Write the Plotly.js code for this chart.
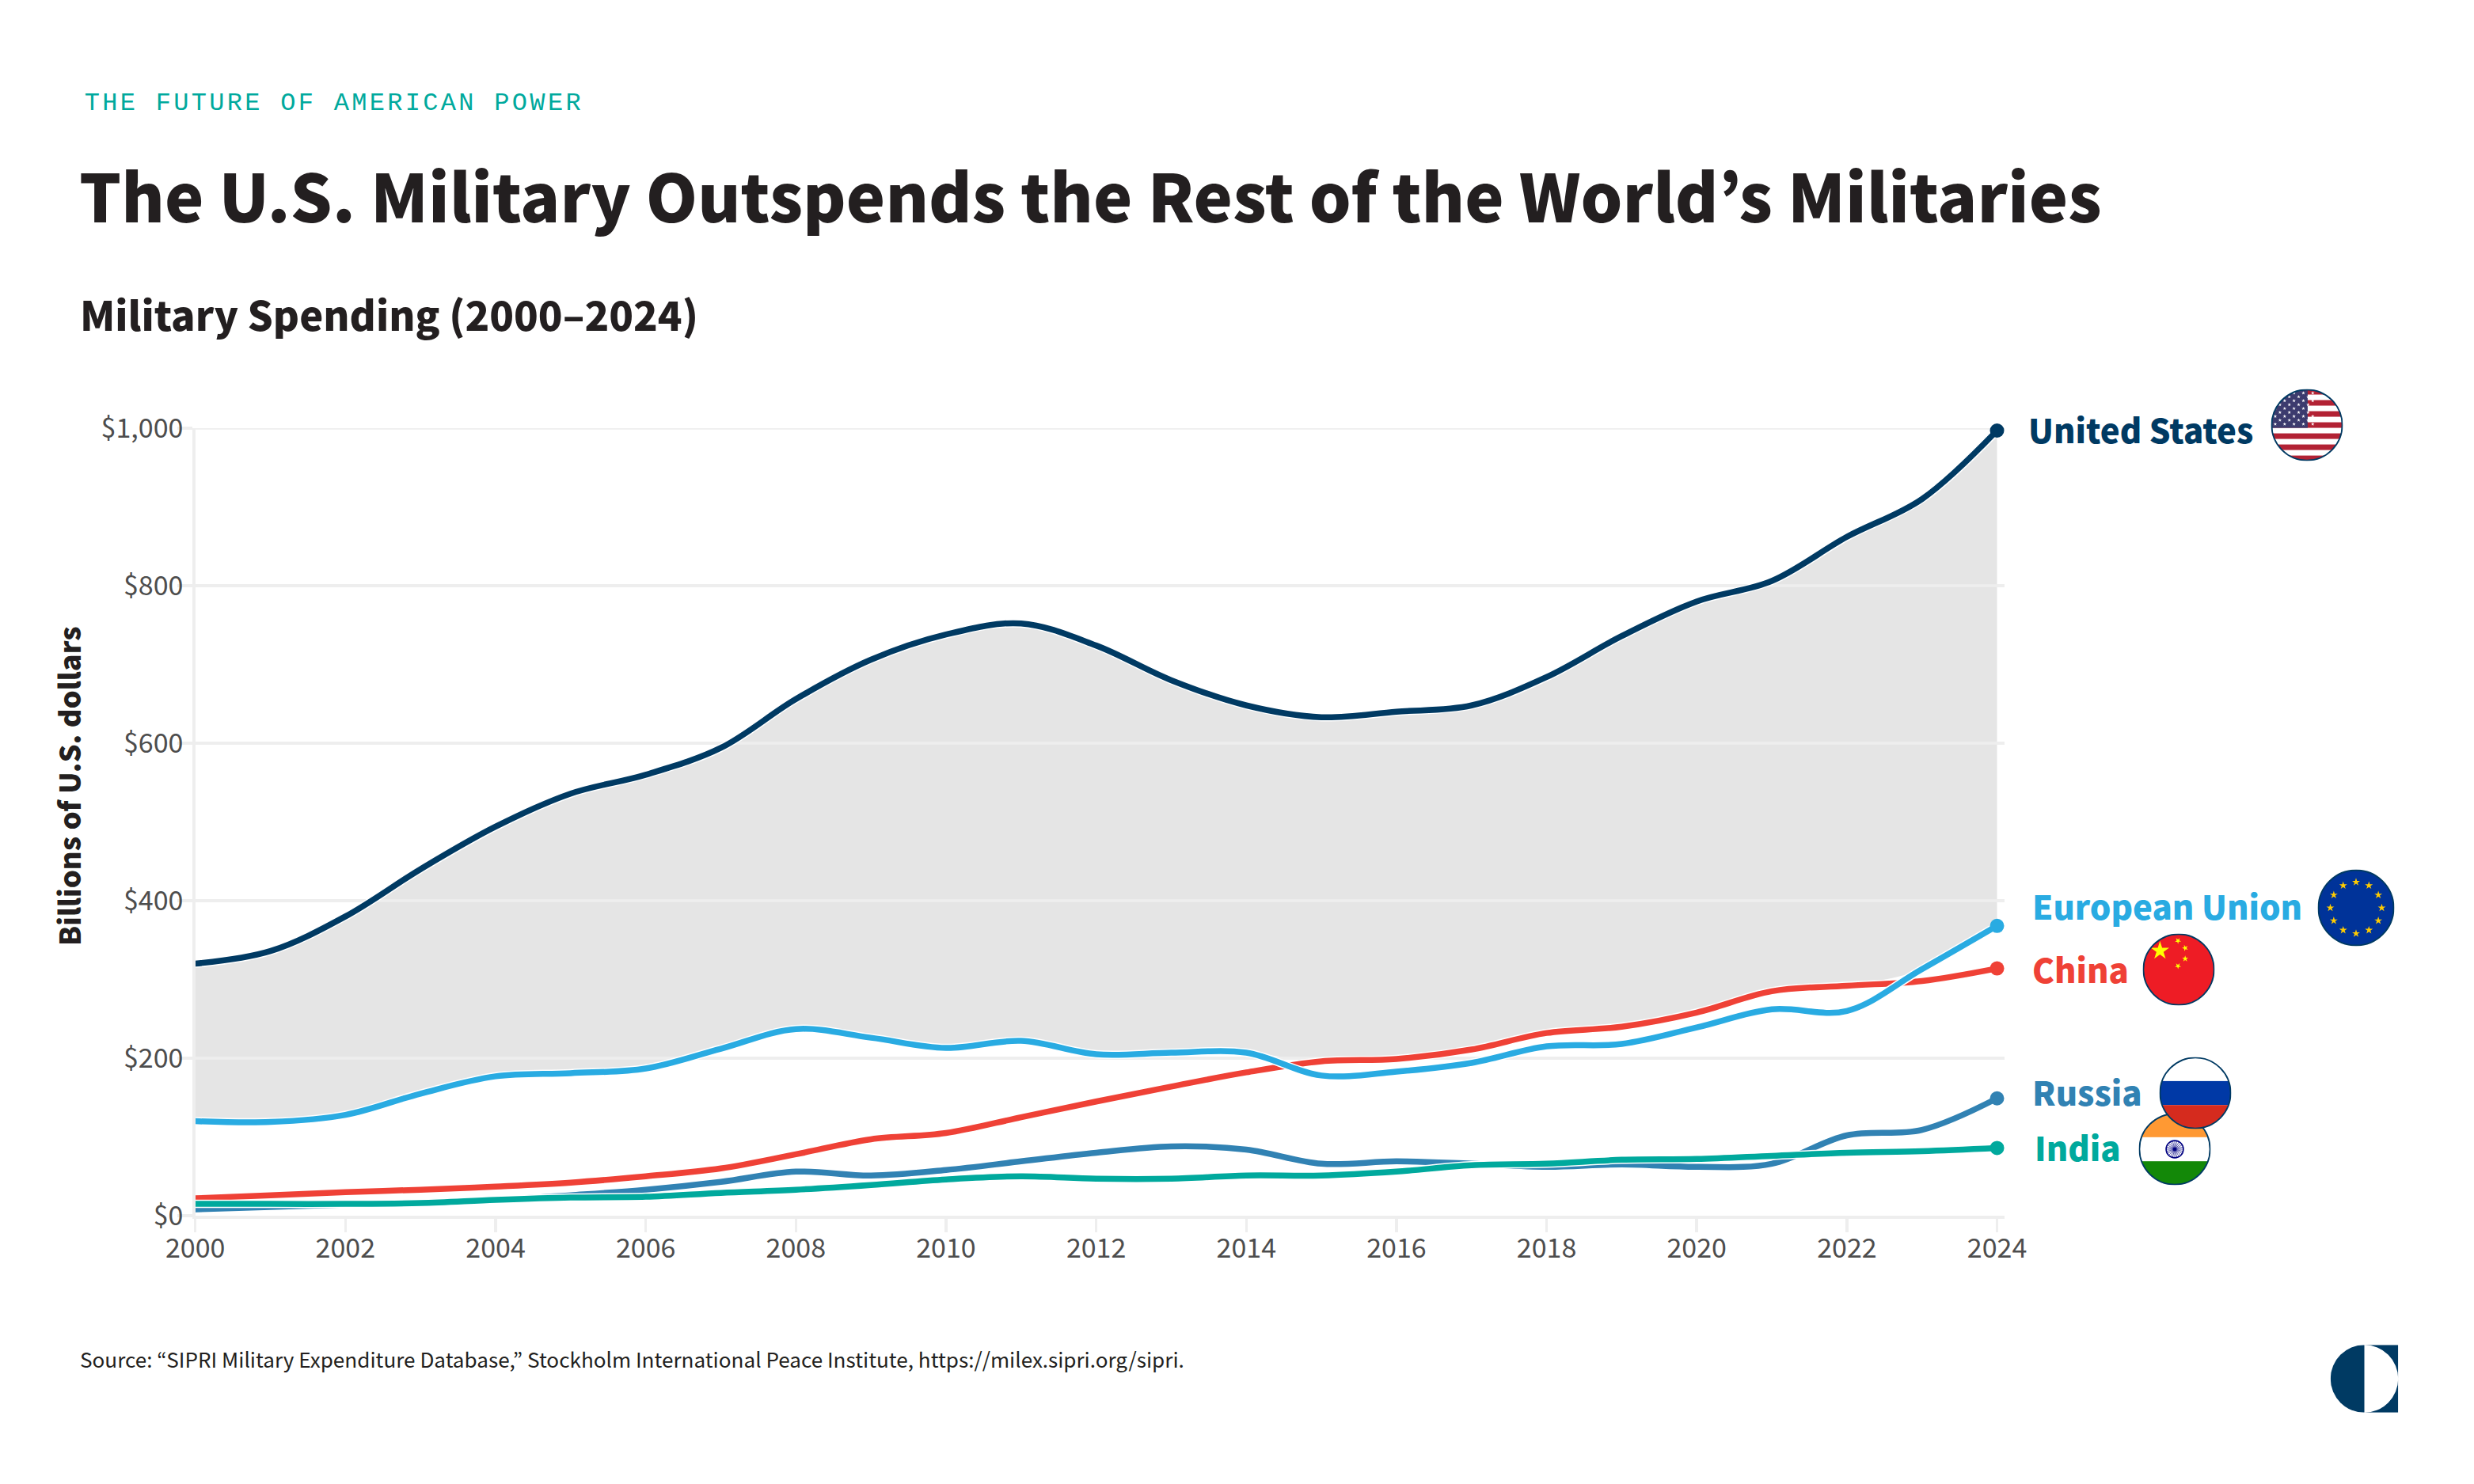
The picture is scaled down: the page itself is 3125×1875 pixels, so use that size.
<!DOCTYPE html>
<html><head><meta charset="utf-8">
<script src="https://cdn.plot.ly/plotly-3.0.1.min.js"></script>
<style>html,body{margin:0;padding:0;background:#fff}</style>
</head><body><div id="chart" style="width:3125px;height:1875px"></div>
<script>
const years = [2000,2001,2002,2003,2004,2005,2006,2007,2008,2009,2010,2011,2012,2013,2014,2015,2016,2017,2018,2019,2020,2021,2022,2023,2024];
const unitedStates = [320,336,380,440,494,536,560,594,656,706,738,752,724,680,648,633,640,648,684,736,780,806,862,910,997];
const europeanUnion = [120,119,128,155,177,181,187,212,237,226,213,222,205,207,207,178,183,194,215,218,239,262,260,313,368];
const china = [22,26,30,33,37,42,50,60,78,97,105,125,145,164,182,196,199,211,232,240,258,285,292,298,314];
const russia = [8,11,14,17,20,26,33,43,56,51,58,69,80,88,84,66,69,66,62,65,62,66,102,109,149];
const india = [15,15,15,16,20,23,24,29,33,39,46,50,47,47,51,51,56,64,66,71,72,76,80,82,86];
const yTicks = [0,200,400,600,800,1000];
const yTickLabels = ['$0','$200','$400','$600','$800','$1,000'];
const xTicks = [2000,2002,2004,2006,2008,2010,2012,2014,2016,2018,2020,2022,2024];

const W=3125,H=1875, px=x=>x/W, py=y=>1-y/H;
const FONT='"Noto Sans CJK KR","Noto Sans",sans-serif';
const NAVY='#003a63', INK='#231f20', GRID='#eeeeee';
const COL={us:NAVY,eu:'#29abe2',cn:'#ef4136',ru:'#3182b3',in:'#00a99d'};

/* upper edge of everything below the US line: the shaded gap runs from here to the US line */
const ceilingBelowUS = years.map((_,i)=>Math.max(europeanUnion[i],china[i],russia[i],india[i]));

const traces=[];
traces.push({x:years,y:ceilingBelowUS,mode:'lines',line:{width:0,shape:'spline',color:'rgba(0,0,0,0)'},hoverinfo:'skip',showlegend:false,name:'Gap floor'});
traces.push({x:years,y:unitedStates,mode:'lines',line:{width:0,shape:'spline',color:'rgba(0,0,0,0)'},fill:'tonexty',fillcolor:'#e5e5e5',hoverinfo:'skip',showlegend:false,name:'Gap'});
/* gridlines repeated above the shaded gap */
yTicks.slice(1).forEach(v=>traces.push({x:[2000,2024.1],y:[v,v],mode:'lines',line:{width:3.5,color:GRID},hoverinfo:'skip',showlegend:false,cliponaxis:false}));
function addSeries(name,vals,color){
  traces.push({x:years,y:vals,mode:'lines',line:{width:10.5,shape:'spline',color:'#ffffff'},hoverinfo:'skip',showlegend:false,cliponaxis:false});
  traces.push({x:years,y:vals,mode:'lines',name:name,line:{width:7.5,shape:'spline',color:color},showlegend:false,cliponaxis:false});
}
addSeries('United States',unitedStates,COL.us);
addSeries('China',china,COL.cn);
addSeries('Russia',russia,COL.ru);
addSeries('European Union',europeanUnion,COL.eu);
addSeries('India',india,COL.in);
[[unitedStates,COL.us],[europeanUnion,COL.eu],[china,COL.cn],[russia,COL.ru],[india,COL.in]].forEach(([v,c])=>{
  traces.push({x:[years[years.length-1]],y:[v[v.length-1]],mode:'markers',marker:{size:18,color:c},hoverinfo:'skip',showlegend:false,cliponaxis:false});
});

/* flag artwork */
function star(cx,cy,r,rot){rot=rot||0;let p=[];for(let i=0;i<10;i++){const a=-Math.PI/2+rot+i*Math.PI/5,q=i%2?r*0.382:r;p.push((cx+q*Math.cos(a)).toFixed(2)+','+(cy+q*Math.sin(a)).toFixed(2));}return '<polygon points="'+p.join(' ')+'"/>';}
function flag(inner){
  const s='<svg xmlns="http://www.w3.org/2000/svg" viewBox="0 0 100 100" width="400" height="400"><defs><clipPath id="c"><circle cx="50" cy="50" r="49"/></clipPath></defs><g clip-path="url(#c)">'+inner+'</g><circle cx="50" cy="50" r="49" fill="none" stroke="#003a63" stroke-width="2"/></svg>';
  return 'data:image/svg+xml;base64,'+btoa(s);
}
function usFlag(){let s='<rect width="100" height="100" fill="#fff"/>';for(let i=0;i<13;i+=2)s+='<rect y="'+(i*7.7)+'" width="100" height="7.7" fill="#b22234"/>';
  s+='<rect width="51" height="54" fill="#3c3b6e"/><g fill="#fff">';
  for(let r=0;r<9;r++){const off=r%2?6.5:0;for(let c=0;c<(r%2?4:5);c++)s+=star(6+off+c*13,5.5+r*5.4,2.6);}
  return flag(s+'</g>');}
function euFlag(){let s='<rect width="100" height="100" fill="#003399"/><g fill="#ffcc00">';for(let i=0;i<12;i++){const a=i*Math.PI/6;s+=star(50+33.5*Math.sin(a),50-33.5*Math.cos(a),5.4);}return flag(s+'</g>');}
function cnFlag(){let s='<rect width="100" height="100" fill="#ee1c25"/><g fill="#ffff00">'+star(24,24,13.5)+star(49,10,4.5,.6)+star(59,20,4.5,.9)+star(59,35,4.5,0)+star(49,45,4.5,.6);return flag(s+'</g>');}
function ruFlag(){return flag('<rect width="100" height="33.4" fill="#fff"/><rect y="33.4" width="100" height="33.3" fill="#0039a6"/><rect y="66.7" width="100" height="33.3" fill="#d52b1e"/>');}
function inFlag(){let s='<rect width="100" height="33.4" fill="#ff9933"/><rect y="33.4" width="100" height="33.3" fill="#fff"/><rect y="66.7" width="100" height="33.3" fill="#138808"/><circle cx="50" cy="50" r="12" fill="none" stroke="#000080" stroke-width="1.8"/><circle cx="50" cy="50" r="2.6" fill="#000080"/>';
  for(let i=0;i<24;i++){const a=i*Math.PI/12;s+='<line x1="50" y1="50" x2="'+(50+12*Math.cos(a)).toFixed(2)+'" y2="'+(50+12*Math.sin(a)).toFixed(2)+'" stroke="#000080" stroke-width=".7"/>';}
  return flag(s);}
const logo='data:image/svg+xml;base64,'+btoa('<svg xmlns="http://www.w3.org/2000/svg" viewBox="0 0 100 100" width="400" height="400"><path d="M50 0A50 50 0 0 0 50 100Z" fill="#003a63"/><path d="M50 0H100V100H50A50 50 0 0 0 50 0Z" fill="#003a63"/></svg>');
function img(src,cx,cy,d){return {source:src,xref:'paper',yref:'paper',x:px(cx-d/2),y:py(cy-d/2),sizex:d/W,sizey:d/H,xanchor:'left',yanchor:'top',sizing:'stretch',layer:'above'};}
const images=[img(usFlag(),2914,537,91),img(euFlag(),2976,1147,97),img(cnFlag(),2752,1225,91),img(inFlag(),2747,1452,91),img(ruFlag(),2773,1381,91),img(logo,2986.5,1742,85.5)];

function note(text,x,y,size,color,opts){return Object.assign({text:text,xref:'paper',yref:'paper',x:px(x),y:py(y),xanchor:'left',yanchor:'middle',showarrow:false,borderpad:0,font:{family:FONT,size:size,color:color,weight:900}},opts||{});}
const annotations=[
  note('THE FUTURE OF AMERICAN POWER',152,130,32,'#00a99d',{font:{family:'"Liberation Mono",monospace',size:32,color:'#00a99d',weight:400}}),
  note('Military Spending (2000–2024)',100,396,50.6,INK),
  note('Billions of U.S. dollars',86,993,36.3,INK,{textangle:-90,xanchor:'center'}),
  note('United States',2561,541,41.9,COL.us),
  note('European Union',2566,1143,41.9,COL.eu),
  note('China',2566,1223,41.9,COL.cn),
  note('Russia',2566,1378,41.9,COL.ru),
  note('India',2569,1448,41.9,COL.in),
  note('Source: “SIPRI Military Expenditure Database,” Stockholm International Peace Institute, https://milex.sipri.org/sipri.',100,1717,26.1,INK,{font:{family:FONT,size:26.1,color:INK,weight:400}})
];

const layout={
  width:W,height:H,autosize:false,margin:{l:0,r:0,t:0,b:0,pad:0},
  paper_bgcolor:'#fff',plot_bgcolor:'#fff',showlegend:false,hovermode:false,
  title:{text:'The U.S. Military Outspends the Rest of the World’s Militaries',x:px(100),xanchor:'left',xref:'paper',y:py(252),yanchor:'middle',yref:'paper',pad:{t:0,b:0,l:0,r:0},font:{family:FONT,size:83.2,color:INK,weight:900}},
  xaxis:{domain:[px(246.7),px(2532)],range:[2000,2024.1],tickmode:'array',tickvals:xTicks,ticktext:xTicks.map(String),ticks:'outside',ticklen:17,tickwidth:3.5,tickcolor:GRID,showgrid:false,zeroline:false,showline:true,linecolor:GRID,linewidth:3.5,tickfont:{family:FONT,size:34,color:'#4d4d4d'},ticklabelstandoff:-8},
  yaxis:{domain:[py(1536),py(541)],range:[0,1000],tickmode:'array',tickvals:yTicks,ticktext:yTickLabels,ticks:'outside',ticklen:19,tickwidth:3.5,tickcolor:GRID,showgrid:true,gridcolor:GRID,gridwidth:3.5,zeroline:false,showline:true,linecolor:GRID,linewidth:3.5,tickfont:{family:FONT,size:34,color:'#4d4d4d'},ticklabelstandoff:-14},
  images:images,annotations:annotations
};
Plotly.newPlot('chart',traces,layout,{displayModeBar:false,staticPlot:true}).then(()=>{
  document.querySelectorAll('.annotation-text').forEach(t=>{if(t.textContent.indexOf('THE FUTURE')===0)t.style.letterSpacing='3.3px';});
});
</script></body></html>
